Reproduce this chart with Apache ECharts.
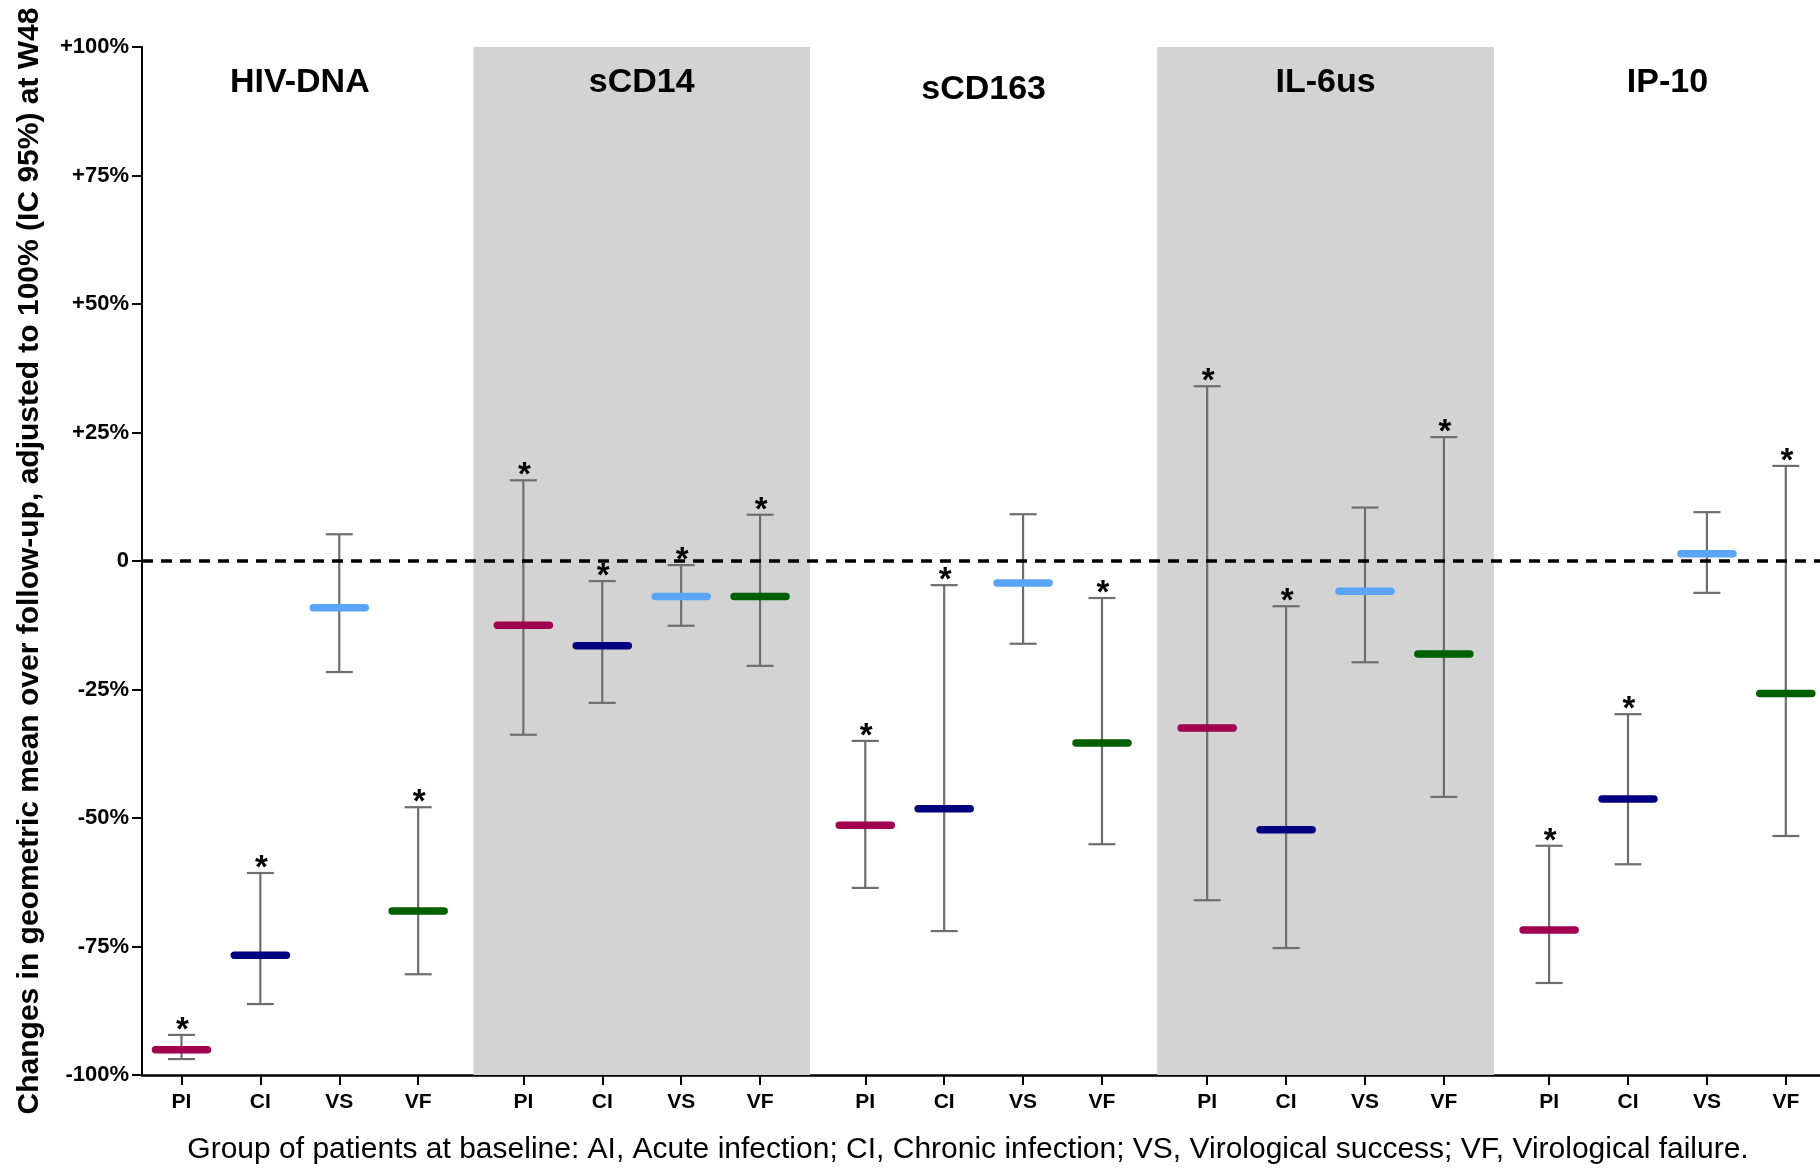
<!DOCTYPE html>
<html>
<head>
<meta charset="utf-8">
<title>Changes in geometric mean at W48</title>
<script src="https://cdn.jsdelivr.net/npm/echarts@6/dist/echarts.min.js"></script>
<style>
  html, body { margin: 0; padding: 0; background: #fff; }
  #chart { width: 1820px; height: 1169px; }
</style>
</head>
<body>
<div id="chart"></div>
<script>
// one panel per marker, four groups of patients in each panel
const markers = ['HIV-DNA', 'sCD14', 'sCD163', 'IL-6us', 'IP-10']
const patientGroups = ['PI', 'CI', 'VS', 'VF']

// change in geometric mean (%) with its 95% interval, one value per marker
const piMean = [-95.1, -12.5, -51.4, -32.5, -71.8]
const piLow = [-96.9, -33.8, -63.6, -66.0, -82.1]
const piHigh = [-92.2, 15.7, -35.0, 34.0, -55.4]

const ciMean = [-76.7, -16.5, -48.2, -52.3, -46.3]
const ciLow = [-86.2, -27.6, -72.0, -75.3, -59.0]
const ciHigh = [-60.7, -3.9, -4.7, -8.8, -29.8]

const vsMean = [-9.1, -6.9, -4.3, -5.9, 1.4]
const vsLow = [-21.6, -12.6, -16.1, -19.7, -6.2]
const vsHigh = [5.2, -0.8, 9.1, 10.4, 9.5]

const vfMean = [-68.1, -6.9, -35.4, -18.1, -25.8]
const vfLow = [-80.4, -20.4, -55.1, -45.9, -53.5]
const vfHigh = [-47.9, 9.0, -7.2, 24.1, 18.5]

// 1 = significant change (asterisk above the interval)
const piSig = [1, 1, 1, 1, 1]
const ciSig = [1, 1, 1, 1, 1]
const vsSig = [0, 1, 0, 0, 0]
const vfSig = [1, 1, 1, 1, 1]

const groupColors = ['#A0004F', '#000080', '#5AA5F7', '#006000']
const errColor = '#6E6E6E'
const FONT = '"Liberation Sans", Arial, sans-serif'

// x layout: 13 slots per panel, 3 slots between groups
const PANEL = 13
const STEP = 3
function xPos (m, g) { return m * PANEL + g * STEP }

const allMeans = [piMean, ciMean, vsMean, vfMean]
const allLows = [piLow, ciLow, vsLow, vfLow]
const allHighs = [piHigh, ciHigh, vsHigh, vfHigh]
const allSig = [piSig, ciSig, vsSig, vfSig]

let barData = []
let tickPos = []
for (let m = 0; m < markers.length; m++) {
  for (let g = 0; g < patientGroups.length; g++) {
    barData.push([xPos(m, g), allMeans[g][m], allLows[g][m], allHighs[g][m], g, allSig[g][m]])
    tickPos.push(xPos(m, g))
  }
}
let titleData = markers.map((name, m) => [xPos(m, 1.5), 100, m])

// shaded background on every second panel
const bandHalf = 6.4
let bands = []
markers.forEach((name, m) => {
  if (m % 2 === 1) {
    let c = xPos(m, 1.5)
    bands.push([{ xAxis: c - bandHalf, yAxis: 100.6 }, { xAxis: c + bandHalf, yAxis: -100 }])
  }
})

function renderBar (params, api) {
  let x = api.value(0)
  let mid = api.coord([x, api.value(1)])
  let bot = api.coord([x, api.value(2)])
  let top = api.coord([x, api.value(3)])
  let g = api.value(4)
  let errStyle = { stroke: errColor, lineWidth: 2.2 }
  let children = [
    { type: 'line', shape: { x1: top[0], y1: top[1], x2: bot[0], y2: bot[1] }, style: errStyle },
    { type: 'line', shape: { x1: top[0] - 13.5, y1: top[1], x2: top[0] + 13.5, y2: top[1] }, style: errStyle },
    { type: 'line', shape: { x1: bot[0] - 13.5, y1: bot[1], x2: bot[0] + 13.5, y2: bot[1] }, style: errStyle },
    { type: 'line', shape: { x1: mid[0] - 26, y1: mid[1], x2: mid[0] + 26, y2: mid[1] },
      style: { stroke: groupColors[g], lineWidth: 7.5, lineCap: 'round' } }
  ]
  if (api.value(5)) {
    children.push({
      type: 'text', x: top[0] + 1, y: top[1] - 4,
      style: { text: '*', font: 'bold 33px ' + FONT, fill: '#000', align: 'center', verticalAlign: 'middle' }
    })
  }
  return { type: 'group', children: children }
}

function renderTitle (params, api) {
  let p = api.coord([api.value(0), api.value(1)])
  let drop = api.value(2) === 2 ? 7 : 0
  return {
    type: 'text', x: p[0], y: p[1] + 36 + drop,
    style: { text: markers[api.value(2)], font: 'bold 34px ' + FONT, fill: '#000', align: 'center', verticalAlign: 'middle' }
  }
}

let chart = echarts.init(document.getElementById('chart'))
chart.setOption({
  animation: false,
  backgroundColor: '#fff',
  grid: { left: 142, right: 0, top: 47, bottom: 94, outerBoundsMode: 'none' },
  xAxis: {
    type: 'value',
    min: -1.5,
    max: 62.3,
    splitLine: { show: false },
    axisLine: { show: true, onZero: false, lineStyle: { color: '#000', width: 2.5 } },
    axisTick: { show: true, customValues: tickPos, length: 10, lineStyle: { color: '#000', width: 2 } },
    axisLabel: {
      customValues: tickPos,
      formatter: v => patientGroups[Math.round((v % PANEL) / STEP)],
      color: '#000', fontFamily: FONT, fontWeight: 'bold', fontSize: 21, margin: 17
    },
    name: 'Group of patients at baseline: AI, Acute infection; CI, Chronic infection; VS, Virological success; VF, Virological failure.',
    nameLocation: 'middle',
    nameGap: 60,
    nameTextStyle: { color: '#000', fontFamily: FONT, fontSize: 30, padding: [0, 26, 0, 0] }
  },
  yAxis: {
    type: 'value',
    min: -100,
    max: 100,
    interval: 25,
    splitLine: { show: false },
    axisLine: { show: true, onZero: false, lineStyle: { color: '#000', width: 2 } },
    axisTick: { show: true, length: 10, lineStyle: { color: '#000', width: 2 } },
    axisLabel: {
      formatter: v => v > 0 ? '+' + v + '%' : (v === 0 ? '0' : v + '%'),
      color: '#000', fontFamily: FONT, fontWeight: 'bold', fontSize: 22, margin: 13
    },
    name: 'Changes in geometric mean over follow-up, adjusted to 100% (IC 95%) at W48',
    nameLocation: 'middle',
    nameRotate: 90,
    nameGap: 97,
    nameTextStyle: { color: '#000', fontFamily: FONT, fontWeight: 'bold', fontSize: 30 }
  },
  series: [
    {
      type: 'custom',
      name: 'bands',
      z: 1,
      silent: true,
      renderItem: () => null,
      data: [],
      markArea: { silent: true, itemStyle: { color: '#D3D3D3' }, data: bands }
    },
    {
      type: 'custom',
      name: 'mean',
      z: 2,
      renderItem: renderBar,
      data: barData
    },
    {
      type: 'custom',
      name: 'titles',
      z: 3,
      silent: true,
      renderItem: renderTitle,
      data: titleData,
      markLine: {
        silent: true,
        symbol: 'none',
        label: { show: false },
        lineStyle: { color: '#000', width: 3.5, type: [11, 8] },
        data: [{ yAxis: 0 }]
      }
    }
  ]
})
</script>
</body>
</html>
